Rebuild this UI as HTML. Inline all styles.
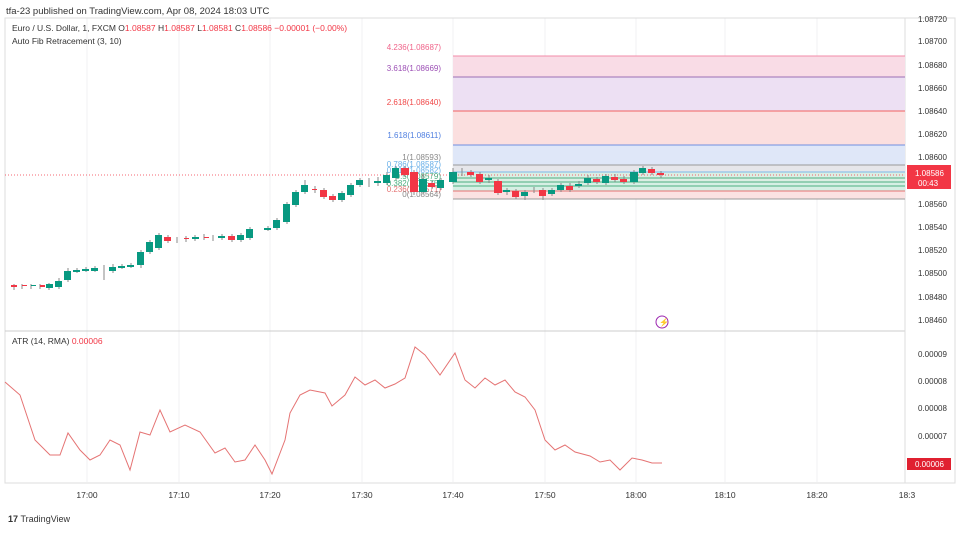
<!DOCTYPE html><html><head><style>body{margin:0;background:#fff;font-family:"Liberation Sans",sans-serif}</style></head><body>
<svg width="960" height="530" xmlns="http://www.w3.org/2000/svg" font-family="Liberation Sans, sans-serif">
<rect width="960" height="530" fill="#fff"/>
<text x="6" y="14" font-size="9.5" fill="#333">tfa-23 published on TradingView.com, Apr 08, 2024 18:03 UTC</text>
<g stroke="#f0f0f3" stroke-width="1">
<line x1="87" y1="18" x2="87" y2="482"/><line x1="179" y1="18" x2="179" y2="482"/><line x1="270" y1="18" x2="270" y2="482"/><line x1="362" y1="18" x2="362" y2="482"/><line x1="453" y1="18" x2="453" y2="482"/><line x1="545" y1="18" x2="545" y2="482"/><line x1="636" y1="18" x2="636" y2="482"/><line x1="725" y1="18" x2="725" y2="482"/><line x1="817" y1="18" x2="817" y2="482"/>
</g>
<rect x="5" y="18" width="950" height="465" fill="none" stroke="#ddd"/>
<line x1="5" y1="331" x2="905" y2="331" stroke="#ccc"/>
<line x1="905" y1="18" x2="905" y2="483" stroke="#ddd"/>
<!-- fib bands -->
<rect x="453" y="56" width="452" height="21" fill="#f9dce6"/>
<rect x="453" y="77" width="452" height="34" fill="#ede0f3"/>
<rect x="453" y="111" width="452" height="34" fill="#fbdfdf"/>
<rect x="453" y="145" width="452" height="20" fill="#dfe7f8"/>
<rect x="453" y="165" width="452" height="7" fill="#e6e6ea"/>
<rect x="453" y="172" width="452" height="10" fill="#dbeee3"/>
<rect x="453" y="182" width="452" height="9" fill="#d6efe4"/>
<rect x="453" y="191" width="452" height="8" fill="#fbe2e2"/>
<g stroke-width="1">
<line x1="453" y1="56" x2="905" y2="56" stroke="#f28ba8"/>
<line x1="453" y1="77" x2="905" y2="77" stroke="#9c6fb5"/>
<line x1="453" y1="111" x2="905" y2="111" stroke="#f06262"/>
<line x1="453" y1="145" x2="905" y2="145" stroke="#6f8fe0"/>
<line x1="453" y1="165" x2="905" y2="165" stroke="#999"/>
<line x1="453" y1="172" x2="905" y2="172" stroke="#7ab8e8"/>
<line x1="453" y1="178" x2="905" y2="178" stroke="#4caf80"/>
<line x1="453" y1="182" x2="905" y2="182" stroke="#4caf80"/>
<line x1="453" y1="186" x2="905" y2="186" stroke="#4caf80"/>
<line x1="453" y1="191" x2="905" y2="191" stroke="#e57373"/>
<line x1="453" y1="199" x2="905" y2="199" stroke="#999"/>
</g>
<line x1="5" y1="175" x2="905" y2="175" stroke="#f23645" stroke-dasharray="1,2" stroke-width="0.8"/>
<g font-size="8" text-anchor="end">
<text x="441" y="50" fill="#f0648a">4.236(1.08687)</text>
<text x="441" y="71" fill="#9c4fb5">3.618(1.08669)</text>
<text x="441" y="105" fill="#f04848">2.618(1.08640)</text>
<text x="441" y="138" fill="#4f7fe0">1.618(1.08611)</text>
<text x="441" y="160" fill="#888">1(1.08593)</text>
<text x="441" y="167" fill="#6ab0e8">0.786(1.08587)</text>
<text x="441" y="173" fill="#6ab0e8">0.618(1.08582)</text>
<text x="441" y="179" fill="#4caf80">0.5(1.08579)</text>
<text x="441" y="186" fill="#4caf80">0.382(1.08575)</text>
<text x="441" y="192" fill="#e57373">0.236(1.08571)</text>
<text x="441" y="197" fill="#888">0(1.08564)</text>
</g>
<!-- candles -->
<g id="c"></g>
<g>
<path d="M14 284v6M22 284v5M31 284v5M40 284v5M49 283v7M59 278v11M68 268v14M77 268v5M86 267v5M95 266v6M104 265v15M113 264v9M122 264v5M131 263v5M141 250v18M150 240v14M159 233v17M168 235v8M177 237v6M186 236v6M195 235v6M204 234v6M213 235v6M222 234v6M232 234v8M241 233v9M250 227v13M268 226v5M277 218v12M287 202v22M296 190v17M305 180v14M315 186v7M324 188v11M333 194v8M342 191v11M351 183v14M360 178v9M369 178v9M378 177v9M387 172v13M396 166v14M405 166v11M414 170v25M423 174v19M432 181v8M441 178v12M453 168v16M462 168v8M471 170v7M480 172v12M489 175v8M498 179v16M507 188v7M516 189v10M525 190v10M534 187v6M543 188v12M552 188v8M561 183v9M570 183v9M579 181v7M588 175v10M597 177v7M606 174v11M615 174v8M624 176v8M634 170v14M643 166v9M652 167v8M661 171v7" stroke="#888" stroke-width="1"/>
</g>
<g fill="#f23645">
<rect x="11" y="285" width="6" height="2"/><rect x="164" y="237" width="7" height="4"/><rect x="228" y="236" width="7" height="4"/><rect x="320" y="190" width="7" height="7"/><rect x="329" y="196" width="7" height="4"/><rect x="401" y="168" width="8" height="7"/><rect x="410" y="172" width="8" height="20"/><rect x="428" y="183" width="7" height="4"/><rect x="467" y="172" width="7" height="3"/><rect x="476" y="174" width="7" height="8"/><rect x="494" y="181" width="8" height="12"/><rect x="512" y="191" width="7" height="6"/><rect x="539" y="190" width="7" height="6"/><rect x="566" y="186" width="7" height="4"/><rect x="593" y="179" width="7" height="3"/><rect x="611" y="177" width="7" height="3"/><rect x="620" y="179" width="7" height="3"/><rect x="648" y="169" width="7" height="4"/><rect x="657" y="173" width="7" height="2"/>
<rect x="22" y="285" width="5" height="1"/><rect x="40" y="285" width="5" height="2"/><rect x="184" y="238" width="5" height="1"/><rect x="204" y="237" width="5" height="1"/><rect x="312" y="189" width="5" height="1"/>
</g>
<g fill="#089981">
<rect x="31" y="285" width="5" height="1"/><rect x="46" y="284" width="7" height="4"/><rect x="55" y="281" width="7" height="6"/><rect x="64" y="271" width="7" height="9"/><rect x="73" y="270" width="7" height="2"/><rect x="82" y="269" width="7" height="2"/><rect x="91" y="268" width="7" height="3"/><rect x="109" y="267" width="7" height="4"/><rect x="118" y="266" width="7" height="2"/><rect x="127" y="265" width="7" height="2"/><rect x="137" y="252" width="7" height="13"/><rect x="146" y="242" width="7" height="10"/><rect x="155" y="235" width="7" height="13"/><rect x="192" y="237" width="7" height="2"/><rect x="218" y="236" width="7" height="2"/><rect x="237" y="235" width="7" height="5"/><rect x="246" y="229" width="7" height="9"/><rect x="264" y="228" width="7" height="2"/><rect x="273" y="220" width="7" height="8"/><rect x="283" y="204" width="7" height="18"/><rect x="292" y="192" width="7" height="13"/><rect x="301" y="185" width="7" height="7"/><rect x="338" y="193" width="7" height="7"/><rect x="347" y="185" width="7" height="10"/><rect x="356" y="180" width="7" height="5"/><rect x="374" y="181" width="7" height="2"/><rect x="383" y="175" width="7" height="8"/><rect x="392" y="168" width="7" height="10"/><rect x="419" y="179" width="8" height="13"/><rect x="437" y="180" width="7" height="8"/><rect x="449" y="172" width="8" height="10"/><rect x="485" y="178" width="7" height="2"/><rect x="503" y="190" width="7" height="2"/><rect x="521" y="192" width="7" height="4"/><rect x="548" y="190" width="7" height="4"/><rect x="557" y="185" width="7" height="5"/><rect x="575" y="184" width="7" height="2"/><rect x="584" y="178" width="7" height="5"/><rect x="602" y="176" width="7" height="7"/><rect x="630" y="172" width="8" height="10"/><rect x="639" y="168" width="7" height="5"/>
</g>
<!-- header -->
<text x="12" y="31" font-size="8.5" fill="#333">Euro / U.S. Dollar, 1, FXCM  O<tspan fill="#f23645">1.08587</tspan>  H<tspan fill="#f23645">1.08587</tspan>  L<tspan fill="#f23645">1.08581</tspan>  C<tspan fill="#f23645">1.08586</tspan>  <tspan fill="#f23645">−0.00001 (−0.00%)</tspan></text>
<text x="12" y="44" font-size="8.5" fill="#333">Auto Fib Retracement (3, 10)</text>
<text x="12" y="344" font-size="8.5" fill="#333">ATR (14, RMA)  <tspan fill="#f23645">0.00006</tspan></text>
<!-- price axis -->
<g font-size="8" fill="#333">
<text x="918" y="22">1.08720</text><text x="918" y="44">1.08700</text><text x="918" y="68">1.08680</text><text x="918" y="91">1.08660</text><text x="918" y="114">1.08640</text><text x="918" y="137">1.08620</text><text x="918" y="160">1.08600</text><text x="918" y="207">1.08560</text><text x="918" y="230">1.08540</text><text x="918" y="253">1.08520</text><text x="918" y="276">1.08500</text><text x="918" y="300">1.08480</text><text x="918" y="323">1.08460</text>
<text x="918" y="357">0.00009</text><text x="918" y="384">0.00008</text><text x="918" y="411">0.00008</text><text x="918" y="439">0.00007</text>
</g>
<rect x="907" y="165" width="44" height="24" fill="#f23645"/>
<text x="915" y="176" font-size="8" fill="#fff">1.08586</text><text x="918" y="186" font-size="8" fill="#fff">00:43</text>
<rect x="907" y="458" width="44" height="12" fill="#e02030"/>
<text x="915" y="467" font-size="8" fill="#fff">0.00006</text>
<circle cx="662" cy="322" r="6" fill="none" stroke="#9c27b0"/><text x="659" y="325" font-size="8" fill="#9c27b0">⚡</text>
<!-- ATR -->
<polyline fill="none" stroke="#e57373" stroke-width="1" points="5,382 20,395 35,440 50,455 60,455 68,433 80,450 90,460 100,455 110,440 120,445 130,470 140,432 150,435 160,410 170,432 185,425 200,432 215,453 225,448 235,462 245,460 255,445 265,460 272,474 285,440 290,413 300,395 310,390 325,393 332,406 345,395 355,377 365,385 375,380 385,388 395,384 405,378 415,347 425,355 440,375 455,353 465,380 475,388 485,378 495,385 505,380 515,392 525,397 535,410 545,440 555,450 565,445 575,452 590,456 600,462 610,460 620,470 632,458 642,460 652,463 662,463"/>
<!-- time axis -->
<g font-size="8.5" fill="#333" text-anchor="middle">
<text x="87" y="498">17:00</text><text x="179" y="498">17:10</text><text x="270" y="498">17:20</text><text x="362" y="498">17:30</text><text x="453" y="498">17:40</text><text x="545" y="498">17:50</text><text x="636" y="498">18:00</text><text x="725" y="498">18:10</text><text x="817" y="498">18:20</text><text x="907" y="498">18:3</text>
</g>
<text x="8" y="522" font-size="9" fill="#333" font-weight="bold">17 <tspan font-weight="normal">TradingView</tspan></text>
</svg></body></html>
